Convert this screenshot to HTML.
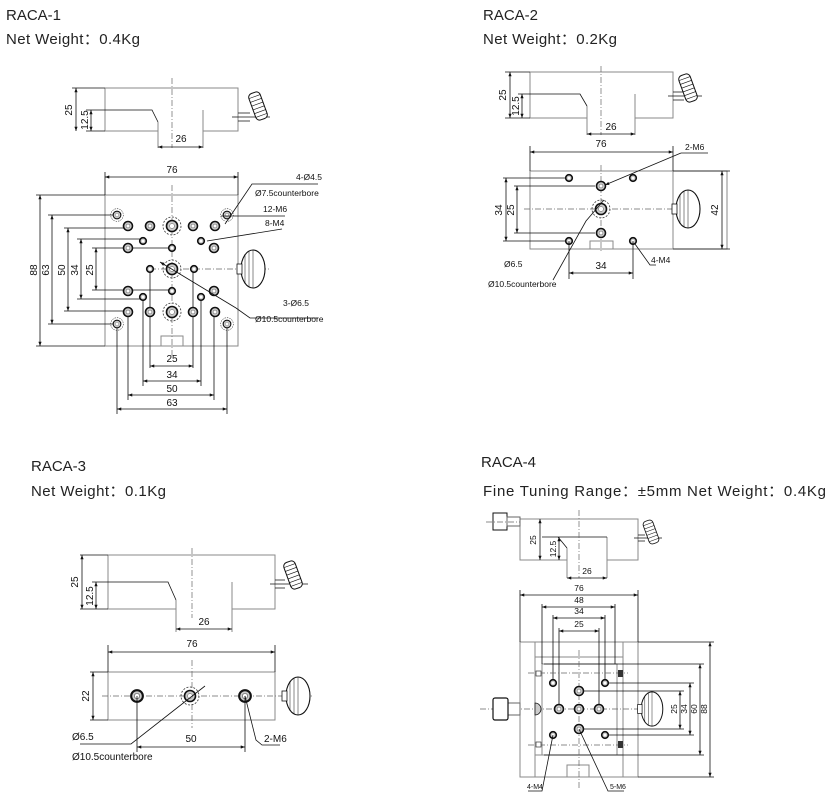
<!DOCTYPE html>
<html><head><meta charset="utf-8"><style>
html,body{margin:0;padding:0;background:#fff;}
svg{display:block;}
.t{font-family:"Liberation Sans","Noto Sans CJK SC",sans-serif;font-size:15px;fill:#222;}
.d{font-family:"Liberation Sans",sans-serif;font-size:10px;fill:#111;}
.s{font-family:"Liberation Sans",sans-serif;font-size:8.5px;fill:#111;}
.b{fill:none;stroke:#8a8a8a;stroke-width:1;}
.k{fill:none;stroke:#111;stroke-width:0.8;}
.c{fill:none;stroke:#666;stroke-width:0.7;stroke-dasharray:6 2 1 2;}
.h{fill:#ccc;stroke:#111;stroke-width:1.6;}
.cb{fill:none;stroke:#333;stroke-width:0.8;stroke-dasharray:2 1.5;}
</style></head><body>
<svg width="838" height="800" viewBox="0 0 838 800" xmlns="http://www.w3.org/2000/svg">
<defs>
<marker id="a" viewBox="0 0 8 6" refX="8" refY="3" markerWidth="6" markerHeight="4" orient="auto-start-reverse"><path d="M0,0L8,3L0,6z" fill="#111"/></marker>
<g id="ho"><circle r="4.5" class="h"/><circle r="2" fill="#fff" stroke="#555" stroke-width="0.5"/></g>
<g id="hs"><circle r="3.3" class="h"/><circle r="1.3" fill="#fff"/></g>
<g id="cb"><circle r="9" class="cb"/><circle r="5.5" class="h"/><circle r="2.5" fill="#fff" stroke="#555" stroke-width="0.5"/></g>
<g id="kn"><rect x="-6" y="-14" width="12" height="28" rx="4" fill="#fff" stroke="#111" stroke-width="1"/><path d="M-6,-10H6M-6,-6H6M-6,-2H6M-6,2H6M-6,6H6M-6,10H6" stroke="#111" stroke-width="0.6"/></g>
<g id="kr"><ellipse cx="0" cy="0" rx="12" ry="19" fill="#fff" stroke="#111" stroke-width="1.1"/><path d="M-8,-15V15M-4,-18V18M0,-19V19" stroke="#111" stroke-width="0.5"/><rect x="-16" y="-5" width="5" height="10" fill="#fff" stroke="#111" stroke-width="0.8"/></g>
</defs>

<!-- titles -->
<text class="t" x="6" y="20">RACA-1</text>
<text class="t" x="6" y="44" textLength="134" lengthAdjust="spacing">Net Weight：0.4Kg</text>
<text class="t" x="483" y="20">RACA-2</text>
<text class="t" x="483" y="44" textLength="134" lengthAdjust="spacing">Net Weight：0.2Kg</text>
<text class="t" x="31" y="471">RACA-3</text>
<text class="t" x="31" y="496" textLength="135" lengthAdjust="spacing">Net Weight：0.1Kg</text>
<text class="t" x="481" y="467">RACA-4</text>
<text class="t" x="483" y="496" textLength="343" lengthAdjust="spacing">Fine Tuning Range：±5mm  Net Weight：0.4Kg</text>

<!-- ===== RACA-1 top view ===== -->
<path class="b" d="M105,88H238V131H203V110M158,122V131H105V88"/>
<path class="b" d="M158,122V148M203,131V148"/>
<path class="k" d="M72,88H105M86,110H152L158,122M86,131H105"/>
<line class="c" x1="172" y1="78" x2="172" y2="148"/>
<line class="k" x1="76" y1="88" x2="76" y2="131" marker-start="url(#a)" marker-end="url(#a)"/>
<line class="k" x1="91" y1="110" x2="91" y2="131" marker-start="url(#a)" marker-end="url(#a)"/>
<line class="k" x1="158" y1="147" x2="203" y2="147" marker-start="url(#a)" marker-end="url(#a)"/>
<text class="d" transform="translate(72,110) rotate(-90)" text-anchor="middle">25</text>
<text class="d" transform="translate(88,120) rotate(-90)" text-anchor="middle">12.5</text>
<text class="d" x="181" y="142" text-anchor="middle">26</text>
<path class="k" d="M238,113H250M238,121H250M232,117H270"/>
<use href="#kn" transform="translate(258,106) rotate(-20)"/>

<!-- RACA-1 plan -->
<rect class="b" x="105" y="195" width="133" height="151"/>
<rect class="b" x="161" y="336" width="22" height="10"/>
<path class="k" d="M105,172V195M238,172V195"/>
<line class="k" x1="105" y1="177" x2="238" y2="177" marker-start="url(#a)" marker-end="url(#a)"/>
<text class="d" x="172" y="173" text-anchor="middle">76</text>
<line class="c" x1="172" y1="185" x2="172" y2="356"/>
<line class="c" x1="150" y1="269" x2="270" y2="269"/>
<path class="k" d="M36,195H105M36,346H105M48,215H117M64,228H128M77,239H143M92,248H172M92,290H172M77,299H143M64,311H128M48,324H117"/>
<line class="k" x1="40" y1="195" x2="40" y2="346" marker-start="url(#a)" marker-end="url(#a)"/>
<line class="k" x1="52" y1="215" x2="52" y2="324" marker-start="url(#a)" marker-end="url(#a)"/>
<line class="k" x1="68" y1="228" x2="68" y2="311" marker-start="url(#a)" marker-end="url(#a)"/>
<line class="k" x1="81" y1="239" x2="81" y2="299" marker-start="url(#a)" marker-end="url(#a)"/>
<line class="k" x1="96" y1="248" x2="96" y2="290" marker-start="url(#a)" marker-end="url(#a)"/>
<text class="d" transform="translate(37,270) rotate(-90)" text-anchor="middle">88</text>
<text class="d" transform="translate(49,270) rotate(-90)" text-anchor="middle">63</text>
<text class="d" transform="translate(65,270) rotate(-90)" text-anchor="middle">50</text>
<text class="d" transform="translate(78,270) rotate(-90)" text-anchor="middle">34</text>
<text class="d" transform="translate(93,270) rotate(-90)" text-anchor="middle">25</text>
<path class="k" d="M150,269V368M193,269V368M143,297V386M201,297V386M128,312V400M214,312V400M117,324V414M227,324V414"/>
<line class="k" x1="150" y1="366" x2="193" y2="366" marker-start="url(#a)" marker-end="url(#a)"/>
<line class="k" x1="143" y1="381" x2="201" y2="381" marker-start="url(#a)" marker-end="url(#a)"/>
<line class="k" x1="128" y1="395" x2="214" y2="395" marker-start="url(#a)" marker-end="url(#a)"/>
<line class="k" x1="117" y1="409" x2="227" y2="409" marker-start="url(#a)" marker-end="url(#a)"/>
<text class="d" x="172" y="362" text-anchor="middle">25</text>
<text class="d" x="172" y="378" text-anchor="middle">34</text>
<text class="d" x="172" y="392" text-anchor="middle">50</text>
<text class="d" x="172" y="406" text-anchor="middle">63</text>
<use href="#cb" transform="translate(117,215) scale(0.7)"/><use href="#cb" transform="translate(227,215) scale(0.7)"/>
<use href="#cb" transform="translate(117,324) scale(0.7)"/><use href="#cb" transform="translate(227,324) scale(0.7)"/>
<use href="#ho" x="128" y="226"/><use href="#ho" x="150" y="226"/><use href="#ho" x="193" y="226"/><use href="#ho" x="215" y="226"/>
<use href="#ho" x="128" y="248"/><use href="#ho" x="214" y="248"/>
<use href="#ho" x="128" y="291"/><use href="#ho" x="214" y="291"/>
<use href="#ho" x="128" y="312"/><use href="#ho" x="150" y="312"/><use href="#ho" x="193" y="312"/><use href="#ho" x="215" y="312"/>
<use href="#hs" x="143" y="241"/><use href="#hs" x="201" y="241"/><use href="#hs" x="143" y="297"/><use href="#hs" x="201" y="297"/>
<use href="#hs" x="172" y="248"/><use href="#hs" x="172" y="291"/><use href="#hs" x="150" y="269"/><use href="#hs" x="194" y="269"/>
<use href="#cb" x="172" y="226"/><use href="#cb" x="172" y="269"/><use href="#cb" x="172" y="312"/>
<use href="#kr" x="253" y="269"/>
<path class="k" d="M318,184H252L225,224M285,216H221M282,229L207,241M236,308L250,318H318"/>
<line class="k" x1="236" y1="308" x2="160" y2="262" marker-end="url(#a)"/>
<text class="s" x="296" y="180">4-Ø4.5</text>
<text class="s" x="255" y="196">Ø7.5counterbore</text>
<text class="s" x="263" y="212">12-M6</text>
<text class="s" x="265" y="226">8-M4</text>
<text class="s" x="283" y="306">3-Ø6.5</text>
<text class="s" x="255" y="322">Ø10.5counterbore</text>

<!-- ===== RACA-2 top view ===== -->
<path class="b" d="M530,72H673V118H635V94M587,106V118H530V72"/>
<path class="b" d="M587,106V135M635,118V135"/>
<path class="k" d="M505,72H530M518,94H580L587,106M505,118H530"/>
<line class="c" x1="601" y1="66" x2="601" y2="135"/>
<line class="k" x1="510" y1="72" x2="510" y2="118" marker-start="url(#a)" marker-end="url(#a)"/>
<line class="k" x1="522" y1="94" x2="522" y2="118" marker-start="url(#a)" marker-end="url(#a)"/>
<line class="k" x1="587" y1="134" x2="635" y2="134" marker-start="url(#a)" marker-end="url(#a)"/>
<text class="d" transform="translate(506,95) rotate(-90)" text-anchor="middle">25</text>
<text class="d" transform="translate(519,106) rotate(-90)" text-anchor="middle">12.5</text>
<text class="d" x="611" y="130" text-anchor="middle">26</text>
<path class="k" d="M673,92H684M673,100H684M668,96H702"/>
<use href="#kn" transform="translate(688,88) rotate(-20)"/>
<path class="b" d="M530,171H673V249H530Z M673,171H727V249H673"/>
<rect class="b" x="590" y="241" width="23" height="8"/>
<path class="k" d="M530,146V171M673,146V171M673,171H730M673,249H730"/>
<line class="k" x1="530" y1="152" x2="673" y2="152" marker-start="url(#a)" marker-end="url(#a)"/>
<text class="d" x="601" y="147" text-anchor="middle">76</text>
<line class="k" x1="722" y1="171" x2="722" y2="249" marker-start="url(#a)" marker-end="url(#a)"/>
<text class="d" transform="translate(718,210) rotate(-90)" text-anchor="middle">42</text>
<line class="c" x1="524" y1="209" x2="700" y2="209"/>
<line class="c" x1="601" y1="165" x2="601" y2="252"/>
<path class="k" d="M503,178H565M514,186H595M514,233H595M503,241H565"/>
<line class="k" x1="506" y1="178" x2="506" y2="241" marker-start="url(#a)" marker-end="url(#a)"/>
<line class="k" x1="517" y1="186" x2="517" y2="233" marker-start="url(#a)" marker-end="url(#a)"/>
<text class="d" transform="translate(502,210) rotate(-90)" text-anchor="middle">34</text>
<text class="d" transform="translate(514,210) rotate(-90)" text-anchor="middle">25</text>
<use href="#hs" x="569" y="178"/><use href="#hs" x="633" y="178"/><use href="#hs" x="569" y="241"/><use href="#hs" x="633" y="241"/>
<use href="#ho" x="601" y="186"/><use href="#ho" x="601" y="233"/>
<use href="#cb" x="601" y="209"/>
<use href="#kr" x="688" y="209"/>
<path class="k" d="M569,241V279M633,241V279"/>
<line class="k" x1="569" y1="273" x2="633" y2="273" marker-start="url(#a)" marker-end="url(#a)"/>
<text class="d" x="601" y="269" text-anchor="middle">34</text>
<path class="k" d="M708,153H681"/>
<line class="k" x1="681" y1="153" x2="605" y2="185" marker-end="url(#a)"/>
<text class="s" x="685" y="150">2-M6</text>
<path class="k" d="M553,280L586,221L604,200"/>
<text class="s" x="504" y="267">Ø6.5</text>
<text class="s" x="488" y="287">Ø10.5counterbore</text>
<path class="k" d="M656,265H650L635,244"/>
<text class="s" x="651" y="263">4-M4</text>

<!-- ===== RACA-3 ===== -->
<path class="b" d="M108,555H275V609H232V582M176,600V609H108V555"/>
<path class="b" d="M176,600V632M232,609V632"/>
<path class="k" d="M80,555H108M92,582H168L176,600M80,609H108"/>
<line class="c" x1="192" y1="548" x2="192" y2="618"/>
<line class="k" x1="82" y1="555" x2="82" y2="609" marker-start="url(#a)" marker-end="url(#a)"/>
<line class="k" x1="96" y1="582" x2="96" y2="609" marker-start="url(#a)" marker-end="url(#a)"/>
<line class="k" x1="176" y1="629" x2="232" y2="629" marker-start="url(#a)" marker-end="url(#a)"/>
<text class="d" transform="translate(78,582) rotate(-90)" text-anchor="middle">25</text>
<text class="d" transform="translate(93,596) rotate(-90)" text-anchor="middle">12.5</text>
<text class="d" x="204" y="625" text-anchor="middle">26</text>
<path class="k" d="M275,580H285M275,588H285M270,584H308"/>
<use href="#kn" transform="translate(293,575) rotate(-20)"/>
<rect class="b" x="108" y="672" width="167" height="48"/>
<path class="k" d="M108,645V672M275,645V672M90,672H108M90,720H108"/>
<line class="k" x1="108" y1="652" x2="275" y2="652" marker-start="url(#a)" marker-end="url(#a)"/>
<text class="d" x="192" y="647" text-anchor="middle">76</text>
<line class="k" x1="93" y1="672" x2="93" y2="720" marker-start="url(#a)" marker-end="url(#a)"/>
<text class="d" transform="translate(89,696) rotate(-90)" text-anchor="middle">22</text>
<line class="c" x1="102" y1="696" x2="312" y2="696"/>
<line class="c" x1="192" y1="660" x2="192" y2="728"/>
<use href="#ho" transform="translate(137,696) scale(1.3)"/><use href="#ho" transform="translate(245,696) scale(1.3)"/>
<use href="#cb" x="190" y="696"/>
<use href="#kr" x="298" y="696"/>
<path class="k" d="M137,696V752M245,696V752"/>
<line class="k" x1="137" y1="747" x2="245" y2="747" marker-start="url(#a)" marker-end="url(#a)"/>
<text class="d" x="191" y="742" text-anchor="middle">50</text>
<path class="k" d="M80,744H131L205,686"/>
<text class="s" x="72" y="740" style="font-size:10px">Ø6.5</text>
<text class="s" x="72" y="760" style="font-size:10px">Ø10.5counterbore</text>
<path class="k" d="M245,696L256,740L262,745H280"/>
<text class="s" x="264" y="742" style="font-size:10px">2-M6</text>

<!-- ===== RACA-4 ===== -->
<path class="b" d="M520,519H638V560H607V537M567,548V560H520V519"/>
<path class="b" d="M567,548V578M607,560V578"/>
<path class="k" d="M558,537H607M558,537L567,548M542,537H560"/>
<rect x="493" y="513" width="14" height="17" fill="#fff" stroke="#111" stroke-width="1"/>
<rect x="507" y="517" width="13" height="9" fill="#fff" stroke="#666"/>
<line class="c" x1="486" y1="522" x2="520" y2="522"/>
<line class="c" x1="579" y1="510" x2="579" y2="578"/>
<line class="k" x1="540" y1="519" x2="540" y2="560" marker-start="url(#a)" marker-end="url(#a)"/>
<line class="k" x1="559" y1="537" x2="559" y2="560" marker-start="url(#a)" marker-end="url(#a)"/>
<line class="k" x1="567" y1="578" x2="607" y2="578" marker-start="url(#a)" marker-end="url(#a)"/>
<text class="s" transform="translate(536,540) rotate(-90)" text-anchor="middle">25</text>
<text class="s" transform="translate(556,549) rotate(-90)" text-anchor="middle">12.5</text>
<text class="s" x="587" y="574" text-anchor="middle">26</text>
<path class="k" d="M638,535H645M638,541H645M634,538H662"/>
<use href="#kn" transform="translate(651,532) rotate(-20) scale(0.85)"/>
<rect class="b" x="520" y="642" width="118" height="135"/>
<path class="b" d="M535,642V777M623,642V777M535,657H623M535,755H623"/>
<rect class="b" x="542" y="664" width="75" height="91"/>
<rect class="b" x="567" y="765" width="22" height="12"/>
<path class="k" d="M520,590V642M638,590V642M542,604V664M615,604V664M553,615V683M605,615V683M559,628V709M599,628V709"/>
<line class="k" x1="520" y1="595" x2="638" y2="595" marker-start="url(#a)" marker-end="url(#a)"/>
<line class="k" x1="542" y1="607" x2="615" y2="607" marker-start="url(#a)" marker-end="url(#a)"/>
<line class="k" x1="553" y1="618" x2="605" y2="618" marker-start="url(#a)" marker-end="url(#a)"/>
<line class="k" x1="559" y1="631" x2="599" y2="631" marker-start="url(#a)" marker-end="url(#a)"/>
<text class="s" x="579" y="591" text-anchor="middle">76</text>
<text class="s" x="579" y="603" text-anchor="middle">48</text>
<text class="s" x="579" y="614" text-anchor="middle">34</text>
<text class="s" x="579" y="627" text-anchor="middle">25</text>
<path class="k" d="M638,642H714M638,777H714M544,664H704M608,683H694M583,691H684M583,729H684M608,735H694M544,755H704"/>
<line class="k" x1="710" y1="642" x2="710" y2="777" marker-start="url(#a)" marker-end="url(#a)"/>
<line class="k" x1="700" y1="664" x2="700" y2="755" marker-start="url(#a)" marker-end="url(#a)"/>
<line class="k" x1="690" y1="683" x2="690" y2="735" marker-start="url(#a)" marker-end="url(#a)"/>
<line class="k" x1="680" y1="691" x2="680" y2="729" marker-start="url(#a)" marker-end="url(#a)"/>
<text class="s" transform="translate(707,709) rotate(-90)" text-anchor="middle">88</text>
<text class="s" transform="translate(697,709) rotate(-90)" text-anchor="middle">60</text>
<text class="s" transform="translate(687,709) rotate(-90)" text-anchor="middle">34</text>
<text class="s" transform="translate(677,709) rotate(-90)" text-anchor="middle">25</text>
<line class="c" x1="480" y1="709" x2="640" y2="709"/>
<line class="c" x1="579" y1="650" x2="579" y2="790"/>
<line class="c" x1="528" y1="673" x2="628" y2="673"/>
<line class="c" x1="528" y1="745" x2="628" y2="745"/>
<rect x="536" y="671" width="5" height="5" fill="#fff" stroke="#333" stroke-width="0.7"/>
<rect x="536" y="742" width="5" height="5" fill="#fff" stroke="#333" stroke-width="0.7"/>
<rect x="618" y="670" width="5" height="7" fill="#333"/>
<rect x="618" y="741" width="5" height="7" fill="#333"/>
<use href="#hs" x="553" y="683"/><use href="#hs" x="605" y="683"/><use href="#hs" x="553" y="735"/><use href="#hs" x="605" y="735"/>
<use href="#ho" x="579" y="691"/><use href="#ho" x="559" y="709"/><use href="#ho" x="579" y="709"/><use href="#ho" x="599" y="709"/><use href="#ho" x="579" y="729"/>
<path d="M535,703a6,6 0 0 1 0,12z" fill="#ccc" stroke="#111" stroke-width="0.8"/>
<rect x="508" y="703" width="12" height="12" fill="#fff" stroke="#666"/>
<rect x="493" y="698" width="15" height="22" rx="2" fill="#fff" stroke="#111" stroke-width="1.2"/>
<use href="#kr" transform="translate(652,709) scale(0.9)"/>
<path class="k" d="M553,735L542,791H528M579,729L608,791H624"/>
<text class="s" x="527" y="789" style="font-size:7px">4-M4</text>
<text class="s" x="610" y="789" style="font-size:7px">5-M6</text>
</svg>
</body></html>
